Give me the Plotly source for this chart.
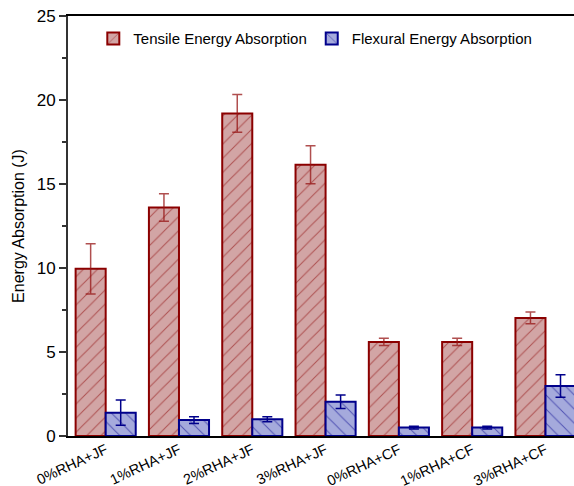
import plotly.graph_objects as go

categories = ["0%RHA+JF", "1%RHA+JF", "2%RHA+JF", "3%RHA+JF",
              "0%RHA+CF", "1%RHA+CF", "3%RHA+CF"]
tensile = [9.95, 13.6, 19.2, 16.15, 5.6, 5.6, 7.03]
tensile_err = [1.5, 0.82, 1.12, 1.13, 0.22, 0.22, 0.35]
flexural = [1.39, 0.95, 1.0, 2.04, 0.5, 0.5, 2.98]
flexural_err = [0.75, 0.2, 0.15, 0.4, 0.08, 0.08, 0.67]
y_ticks = [0, 5, 10, 15, 20, 25]

FONT = "Liberation Sans, Arial, sans-serif"

fig = go.Figure()
fig.add_trace(go.Bar(
    name="Tensile Energy Absorption",
    x=list(range(len(categories))), y=tensile,
    error_y=dict(type="data", array=tensile_err, color="rgba(150,20,20,0.75)",
                 thickness=1.5, width=5),
    marker=dict(color="rgb(210,165,165)",
                line=dict(color="#8b0000", width=2),
                pattern=dict(shape="/", fgcolor="#8b0000", size=10, solidity=0.1)),
))
fig.add_trace(go.Bar(
    name="Flexural Energy Absorption",
    x=list(range(len(categories))), y=flexural,
    error_y=dict(type="data", array=flexural_err, color="#00008b",
                 thickness=1.5, width=5),
    marker=dict(color="rgb(165,170,220)",
                line=dict(color="#00008b", width=2),
                pattern=dict(shape="\\", fgcolor="#00008b", size=10, solidity=0.1)),
))

fig.update_layout(
    width=574, height=486,
    margin=dict(l=68, r=0, t=16, b=50),
    paper_bgcolor="white", plot_bgcolor="white",
    barmode="group", bargap=0.18, bargroupgap=0,
    font=dict(family=FONT, color="black"),
    legend=dict(orientation="h", x=0.05, y=0.985, xanchor="left", yanchor="top",
                font=dict(size=15, family=FONT), bgcolor="rgba(0,0,0,0)",
                itemwidth=30, traceorder="normal"),
    showlegend=True,
)
fig.update_xaxes(
    range=[-0.514, 6.389], automargin=False,
    tickmode="array", tickvals=list(range(len(categories))), ticktext=categories,
    tickangle=-25, tickfont=dict(size=14.5, family=FONT), ticklabelstandoff=-2,
    showline=True, linecolor="black", linewidth=2, mirror=True,
    ticks="", showgrid=False, zeroline=False,
)
fig.update_yaxes(
    range=[0, 25], tickvals=y_ticks, tickfont=dict(size=17, family=FONT),
    automargin=False,
    title=dict(text="Energy Absorption (J)", font=dict(size=16, family=FONT), standoff=8),
    showline=True, linecolor="#333", linewidth=2,
    ticks="outside", ticklen=7, tickwidth=1.5, tickcolor="#333",
    minor=dict(dtick=2.5, ticks="outside", ticklen=4, tickwidth=1.5, tickcolor="#333"),
    showgrid=False, zeroline=False,
)

fig.write_html("out.html")
